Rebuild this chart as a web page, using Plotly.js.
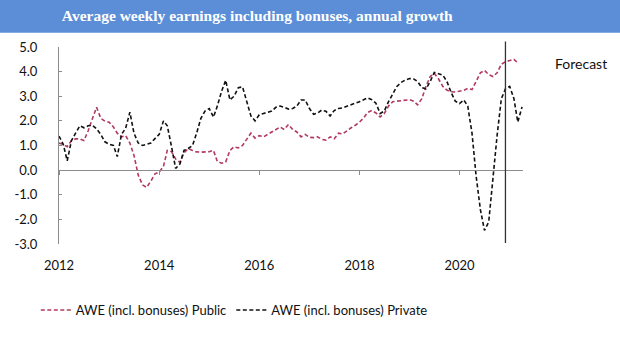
<!DOCTYPE html>
<html>
<head>
<meta charset="utf-8">
<script src="https://cdn.plot.ly/plotly-3.0.1.min.js"></script>
<style>html,body{margin:0;padding:0;background:#fff;}#chart{width:620px;height:358px;}</style>
</head>
<body>
<div id="chart"></div>
<script>
// Monthly series, Jan 2012 onwards
const startYear = 2012;
const publicAWE = [
  1.10, 1.04, 0.95, 1.20, 1.27, 1.27, 1.20, 1.60, 2.10, 2.55, 2.10, 1.99,
  1.95, 1.75, 1.50, 1.35, 1.40, 1.10, 0.60, -0.20, -0.60, -0.70, -0.45, -0.15,
  -0.08, 0.15, 0.80, 0.75, 0.45, 0.32, 0.70, 0.88, 0.80, 0.74, 0.73, 0.73,
  0.75, 0.80, 0.35, 0.28, 0.33, 0.80, 0.95, 0.90, 1.00, 1.25, 1.50, 1.30,
  1.40, 1.35, 1.45, 1.55, 1.65, 1.75, 1.65, 1.85, 1.65, 1.55, 1.35, 1.45,
  1.33, 1.32, 1.35, 1.25, 1.22, 1.35, 1.27, 1.50, 1.47, 1.60, 1.72, 1.82,
  1.95, 2.12, 2.34, 2.42, 2.32, 2.16, 2.30, 2.60, 2.78, 2.80, 2.81, 2.84,
  2.86, 2.80, 2.65, 2.90, 3.40, 3.80, 3.93, 3.70, 3.40, 3.25, 3.18, 3.17,
  3.20, 3.24, 3.32, 3.27, 3.60, 3.95, 4.05, 3.88, 3.80, 3.95, 4.30, 4.40,
  4.45, 4.50, 4.35
];
const privateAWE = [
  1.38, 1.05, 0.38, 1.20, 1.50, 1.80, 1.72, 1.80, 1.82, 1.68, 1.45, 1.15,
  1.05, 1.00, 0.55, 1.45, 1.70, 2.35, 1.50, 1.10, 1.00, 1.04, 1.10, 1.28,
  1.45, 2.00, 1.80, 0.95, 0.07, 0.25, 0.80, 0.88, 1.00, 1.50, 2.10, 2.40,
  2.50, 2.15, 2.60, 3.20, 3.65, 2.85, 3.00, 3.35, 3.38, 2.80, 2.20, 2.00,
  2.25, 2.30, 2.35, 2.40, 2.55, 2.60, 2.55, 2.48, 2.50, 2.60, 2.85, 2.85,
  2.50, 2.27, 2.32, 2.44, 2.39, 2.20, 2.42, 2.50, 2.53, 2.60, 2.66, 2.72,
  2.78, 2.85, 2.93, 2.86, 2.72, 2.30, 2.40, 2.78, 3.10, 3.40, 3.56, 3.66,
  3.72, 3.70, 3.60, 3.35, 3.30, 3.60, 3.97, 3.93, 3.86, 3.60, 3.15, 2.80,
  2.70, 2.85, 2.60, 1.50, -0.24, -1.60, -2.45, -2.10, -0.30, 1.40, 2.90, 3.30,
  3.40, 2.90, 1.95, 2.57
];
const seriesNames = ['AWE (incl. bonuses) Public', 'AWE (incl. bonuses) Private'];
const forecastDate = '2020-12-01';
const yTicks = [-3, -2, -1, 0, 1, 2, 3, 4, 5];
const yTickLabels = ['-3.0', '-2.0', '-1.0', '0.0', '1.0', '2.0', '3.0', '4.0', '5.0'];
const titleText = 'Average weekly earnings including bonuses, annual growth';

function monthDates(n) {
  const out = [];
  for (let i = 0; i < n; i++) {
    const y = startYear + Math.floor(i / 12);
    const m = (i % 12) + 1;
    out.push(y + '-' + (m < 10 ? '0' + m : m) + '-01');
  }
  return out;
}

const font = 'Lato, "Open Sans", sans-serif';
const traces = [
  {x: monthDates(publicAWE.length), y: publicAWE, name: seriesNames[0], type: 'scatter', mode: 'lines',
   line: {color: '#b23a5f', width: 1.6, dash: '4px,2.5px'}},
  {x: monthDates(privateAWE.length), y: privateAWE, name: seriesNames[1], type: 'scatter', mode: 'lines',
   line: {color: '#111111', width: 1.6, dash: '4px,2.5px'}},
  {x: [], y: [], xaxis: 'x2', showlegend: false, hoverinfo: 'skip'}
];

const xRange = ['2012-01-01', '2021-04-08'];
const layout = {
  width: 620, height: 358,
  margin: {l: 59, r: 97, t: 47, b: 114},
  paper_bgcolor: '#ffffff', plot_bgcolor: '#ffffff',
  font: {family: font, size: 13, color: '#111111'},
  title: {text: '<b>' + titleText + '</b>', x: 0.415, xanchor: 'center', y: 0.957, yanchor: 'middle',
          font: {family: '"Liberation Serif", "DejaVu Serif", serif', size: 15.5, color: '#ffffff'}},
  xaxis: {type: 'date', range: xRange, dtick: 'M24', tick0: '2012-01-01', tickformat: '%Y',
          showgrid: false, zeroline: false, showline: false, ticks: '', ticklabelstandoff: 12,
          tickfont: {family: font, size: 13, color: '#111111'}},
  xaxis2: {type: 'date', range: xRange, dtick: 'M24', tick0: '2012-01-01', overlaying: 'x',
           anchor: 'free', position: 0.375, showgrid: false, zeroline: false,
           showline: true, linecolor: '#8c8c8c', linewidth: 1, ticks: 'outside', ticklen: 4,
           tickcolor: '#8c8c8c', showticklabels: false},
  yaxis: {range: [-3, 5], tickvals: yTicks, ticktext: yTickLabels, showgrid: false, zeroline: false,
          showline: true, linecolor: '#8c8c8c', linewidth: 1, ticks: 'inside', ticklen: 3,
          tickcolor: '#8c8c8c', ticklabelstandoff: 18,
          tickfont: {family: font, size: 13, color: '#111111'}},
  showlegend: true,
  legend: {orientation: 'h', x: -0.05, xanchor: 'left', y: -0.335, yanchor: 'middle',
           font: {family: font, size: 13, color: '#111111'}, itemwidth: 30, tracegroupgap: 0,
           bgcolor: 'rgba(0,0,0,0)'},
  shapes: [
    {type: 'rect', xref: 'paper', yref: 'paper', x0: -0.15, x1: 1.25, y0: 1.0726, y1: 1.3,
     fillcolor: '#5b8ed6', line: {width: 0}, layer: 'below'},
    {type: 'line', xref: 'x', yref: 'paper', x0: forecastDate, x1: forecastDate, y0: 0.005, y1: 1.028,
     line: {color: '#333333', width: 1.3}}
  ],
  annotations: [
    {text: 'Forecast', xref: 'paper', yref: 'paper', x: 1.065, y: 0.915, xanchor: 'left', yanchor: 'middle',
     showarrow: false, font: {family: font, size: 14, color: '#111111'}}
  ]
};

Plotly.newPlot('chart', traces, layout, {displayModeBar: false, staticPlot: true});
</script>
</body>
</html>
